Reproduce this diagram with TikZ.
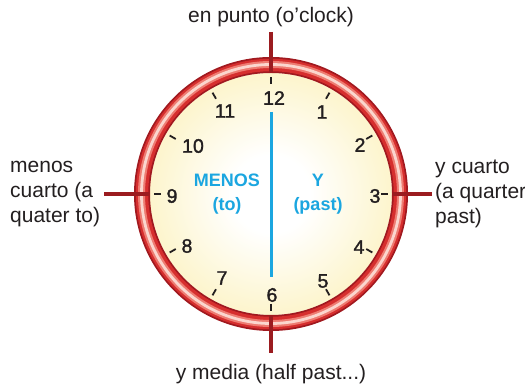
\documentclass[tikz,border=0pt]{standalone}
\usepackage{fontspec}
\setmainfont{Liberation Sans}
\newfontfamily\numfont[FakeBold=1.6]{Liberation Sans}
\usetikzlibrary{calc}
\definecolor{ringdark}{HTML}{A0191F}
\definecolor{ringred}{HTML}{D62E2E}
\definecolor{ringmid}{HTML}{EE7C72}
\definecolor{ringlight}{HTML}{FBD6CE}
\definecolor{crossred}{HTML}{9B1C20}
\definecolor{faceyel}{HTML}{FBEEAC}
\definecolor{handblue}{HTML}{1BA6E0}
\definecolor{ink}{HTML}{231F20}
\pgfdeclareradialshading{faceshade}{\pgfpoint{0bp}{0bp}}{color(0bp)=(white); color(8bp)=(white); color(36bp)=(faceyel); color(50bp)=(faceyel)}
\begin{document}
\begin{tikzpicture}[x=1pt,y=1pt,
  label/.style={font=\fontsize{21}{25}\selectfont, text=ink, inner sep=0pt},
  hournum/.style={font=\numfont\fontsize{19.5}{22}\selectfont, text=ink, inner sep=0pt},
  halfword/.style={font=\fontsize{18}{24}\selectfont\bfseries, text=handblue, inner sep=0pt, align=center},
  cross/.style={draw=crossred, line width=4pt},
  hourtick/.style={draw=ink, line width=1.8pt}]
\useasboundingbox (0,0) rectangle (525,388);
\coordinate (c) at (271,194);
% face
\shade[shading=faceshade] (c) circle[radius=121pt];
% ring
\draw[ringdark, line width=16pt] (c) circle[radius=129pt];
\draw[ringred, line width=12.5pt] (c) circle[radius=129pt];
\draw[ringmid, line width=7pt] (c) circle[radius=129.5pt];
\draw[ringlight, line width=2.8pt] (c) circle[radius=129.5pt];
% cross lines (outside the face only)
\coordinate (vt) at (271,356);
\coordinate (vti) at (271,316);
\coordinate (vb) at (271,35);
\coordinate (vbi) at (271,72);
\coordinate (hl) at (104,194);
\coordinate (hli) at (149,194);
\coordinate (hr) at (432,194);
\coordinate (hri) at (393,194);
\draw[cross] (vt) -- (vti);
\draw[cross] (vb) -- (vbi);
\draw[cross] (hl) -- (hli);
\draw[cross] (hr) -- (hri);
% ticks
\foreach \h in {1,...,12}{
  \draw[hourtick] ($(c)+({90-30*\h}:110pt)$) -- ($(c)+({90-30*\h}:117pt)$);
}
% numbers
\node[hournum] (n12) at (274,290) {12};
\node[hournum] (n1) at (322,276) {1};
\node[hournum] (n2) at (360,243) {2};
\node[hournum] (n3) at (375,192) {3};
\node[hournum] (n4) at (359,141) {4};
\node[hournum] (n5) at (323,107) {5};
\node[hournum] (n6) at (272,93) {6};
\node[hournum] (n7) at (222,110) {7};
\node[hournum] (n8) at (187,142) {8};
\node[hournum] (n9) at (172,192) {9};
\node[hournum] (n10) at (193,242) {10};
\node[hournum] (n11) at (225,277) {11};
% blue hand
\coordinate (bt) at (271,276);
\coordinate (bb) at (271,111);
\draw[handblue, line width=3pt] (bt) -- (bb);
\node[halfword] (menos) at (227,194) {MENOS\\(to)};
\node[halfword] (ypast) at (318,194) {Y\\(past)};
% labels
\node[label, anchor=base] (top) at (271,365) {en punto (o’clock)};
\node[label, anchor=base] (bottom) at (271,8) {y media (half past...)};
\node[label, anchor=west, align=left] (left) at (10,194) {menos\\cuarto (a\\quater to)};
\node[label, anchor=west, align=left] (right) at (435,194) {y cuarto\\(a quarter\\past)};
\end{tikzpicture}
\end{document}
